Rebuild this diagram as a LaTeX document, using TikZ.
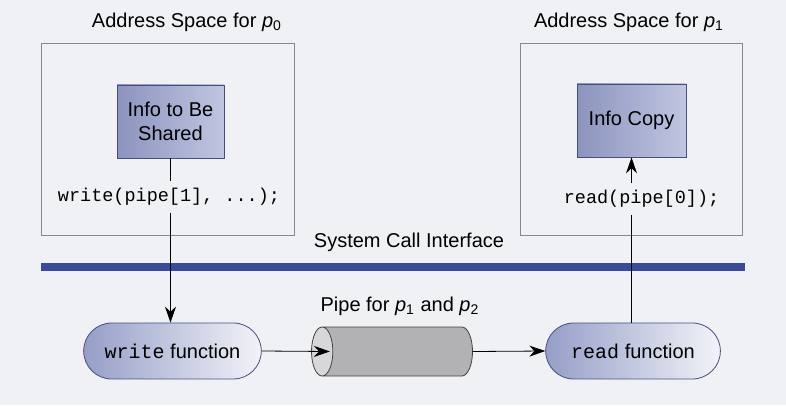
\documentclass[tikz,border=0pt]{standalone}
\usepackage{fontspec}
\setmainfont{Liberation Sans}
\setmonofont{Liberation Mono}
\usetikzlibrary{shapes.geometric,shapes.misc,arrows.meta}
\definecolor{paper}{RGB}{240,241,245}
\definecolor{framegray}{RGB}{135,135,140}
\definecolor{infodark}{RGB}{140,148,190}
\definecolor{infolight}{RGB}{192,197,224}
\definecolor{infoline}{RGB}{70,78,125}
\definecolor{funcdark}{RGB}{150,158,200}
\definecolor{funclight}{RGB}{242,243,248}
\definecolor{barblue}{RGB}{58,74,155}
\definecolor{pipebody}{RGB}{178,178,180}
\definecolor{pipeend}{RGB}{215,215,218}
\begin{document}
\begin{tikzpicture}[every node/.style={font=\fontsize{10}{12}\selectfont},
    >={Stealth[length=8pt,width=5.5pt]},
    space/.style={draw=framegray, line width=0.5pt},
    info/.style={draw=infoline, left color=infodark, right color=infolight, align=center, minimum height=1.283cm},
    func/.style={rounded rectangle, draw=infoline, left color=funcdark, right color=funclight, minimum height=0.984cm},
    code/.style={font=\fontsize{9.25}{11}\selectfont\ttfamily}]
        \fill[paper] (0,0) rectangle (13.812,7.117);
        \useasboundingbox (0,0) rectangle (13.812,7.117);
        \node (title0) at (3.286,6.730) {Address Space for \textit{p}\textsubscript{0}};
        \node (title1) at (11.053,6.730) {Address Space for \textit{p}\textsubscript{1}};
        \node[space, minimum width=4.463cm, minimum height=3.374cm] (as0) at (2.952,4.657) {};
        \node[space, minimum width=3.901cm, minimum height=3.374cm] (as1) at (11.089,4.657) {};
        \node[info, minimum width=1.880cm] (share) at (2.996,4.982) {Info to Be\\Shared};
        \node[info, minimum width=1.915cm] (copy) at (11.097,5.000) {Info Copy};
        \node[code] (wcall) at (2.970,3.655) {write(pipe[1], ...);};
        \node[code] (rcall) at (11.273,3.620) {read(pipe[0]);};
        \node (sci) at (7.187,2.864) {System Call Interface};
        \fill[barblue] (0.720,2.355) rectangle (13.092,2.495);
        \node[func, minimum width=3.356cm] (wfn) at (3.031,0.949) {\texttt{write} function};
        \node[func, minimum width=3.304cm] (rfn) at (11.124,0.949) {\texttt{read} function};
        \node[cylinder, shape border rotate=180, aspect=1.6, draw=black!75, cylinder uses custom fill,
            cylinder end fill=pipeend, cylinder body fill=pipebody,
            minimum height=2.829cm, minimum width=0.861cm] (pipe) at (7.050,0.940) {};
        \node (pipelbl) at (7.029,1.740) {Pipe for \textit{p}\textsubscript{1} and \textit{p}\textsubscript{2}};
        \draw (share.south) -- (share.south |- wcall.north);
        \draw[->] (share.south |- wcall.south) -- (share.south |- wfn.north);
        \draw[->] (wfn.east) -- ([xshift=0.33cm]pipe.west);
        \draw[->] (pipe.east) -- (rfn.west);
        \draw (rfn.north -| copy.south) -- (rcall.south -| copy.south);
        \draw[->] (rcall.north -| copy.south) -- (copy.south);
    \end{tikzpicture}
\end{document}
